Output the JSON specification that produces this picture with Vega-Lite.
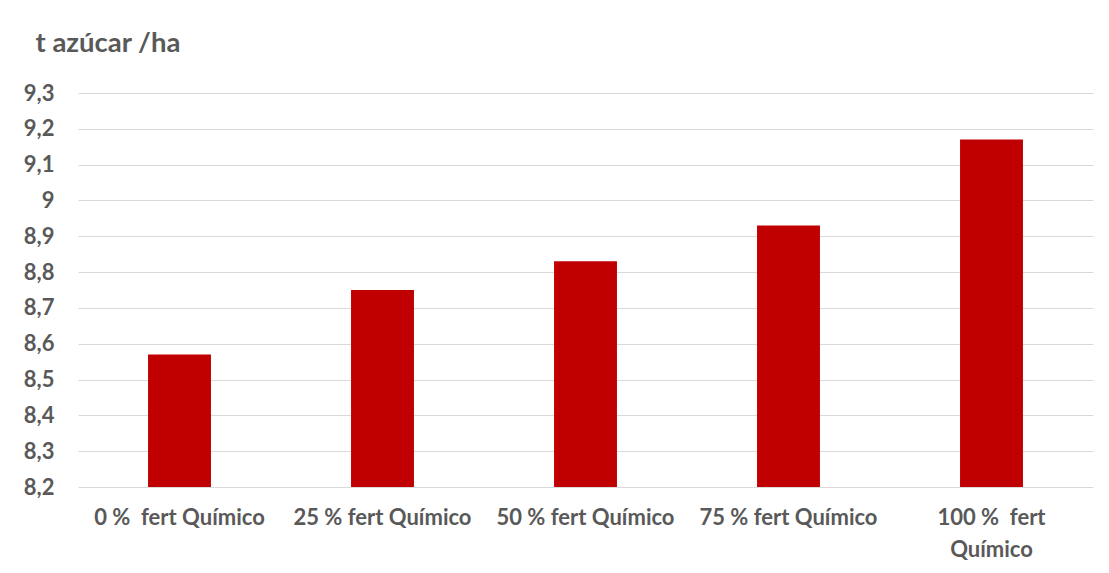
{
  "$schema": "https://vega.github.io/schema/vega-lite/v6.json",
  "width": 1015,
  "height": 394,
  "autosize": {"type": "none"},
  "padding": {"left": 78, "top": 93, "right": 16, "bottom": 86},
  "background": "white",
  "config": {
    "view": {"stroke": null},
    "font": "Lato"
  },
  "data": {
    "values": [
      {"tratamiento": "0 %\u00a0 fert Químico", "t_azucar_ha": 8.57},
      {"tratamiento": "25 % fert Químico", "t_azucar_ha": 8.75},
      {"tratamiento": "50 % fert Químico", "t_azucar_ha": 8.83},
      {"tratamiento": "75 % fert Químico", "t_azucar_ha": 8.93},
      {"tratamiento": "100 %\u00a0 fert Químico", "t_azucar_ha": 9.17}
    ]
  },
  "mark": {"type": "bar", "color": "#C00000", "clip": true},
  "encoding": {
    "x": {
      "field": "tratamiento",
      "type": "nominal",
      "sort": null,
      "scale": {"paddingInner": 0.69, "paddingOuter": 0.345},
      "axis": {
        "title": null,
        "labelAngle": 0,
        "labelFont": "Lato",
        "labelFontSize": 22,
        "labelFontWeight": "bold",
        "labelColor": "#595959",
        "labelPadding": 20,
        "labelLineHeight": 32,
        "labelBaseline": "top",
        "labelExpr": "indexof(datum.value, '100') == 0 ? ['100 %\u00a0 fert', 'Químico'] : datum.value",
        "ticks": false,
        "domain": false,
        "grid": false
      }
    },
    "y": {
      "field": "t_azucar_ha",
      "type": "quantitative",
      "scale": {"domain": [8.2, 9.3], "zero": false, "nice": false},
      "axis": {
        "title": "t azúcar /ha",
        "titleAngle": 0,
        "titleAlign": "left",
        "titleBaseline": "alphabetic",
        "titleX": -43,
        "titleY": -42,
        "titleFont": "Lato",
        "titleFontSize": 27.5,
        "titleFontWeight": "bold",
        "titleColor": "#595959",
        "values": [8.2, 8.3, 8.4, 8.5, 8.6, 8.7, 8.8, 8.9, 9.0, 9.1, 9.2, 9.3],
        "labelExpr": "replace(format(datum.value, '.1~f'), '.', ',')",
        "labelFont": "Lato",
        "labelFontSize": 22,
        "labelFontWeight": "bold",
        "labelColor": "#595959",
        "labelPadding": 24,
        "ticks": false,
        "domain": false,
        "grid": true,
        "gridColor": "#d9d9d9",
        "gridWidth": 1
      }
    }
  }
}
